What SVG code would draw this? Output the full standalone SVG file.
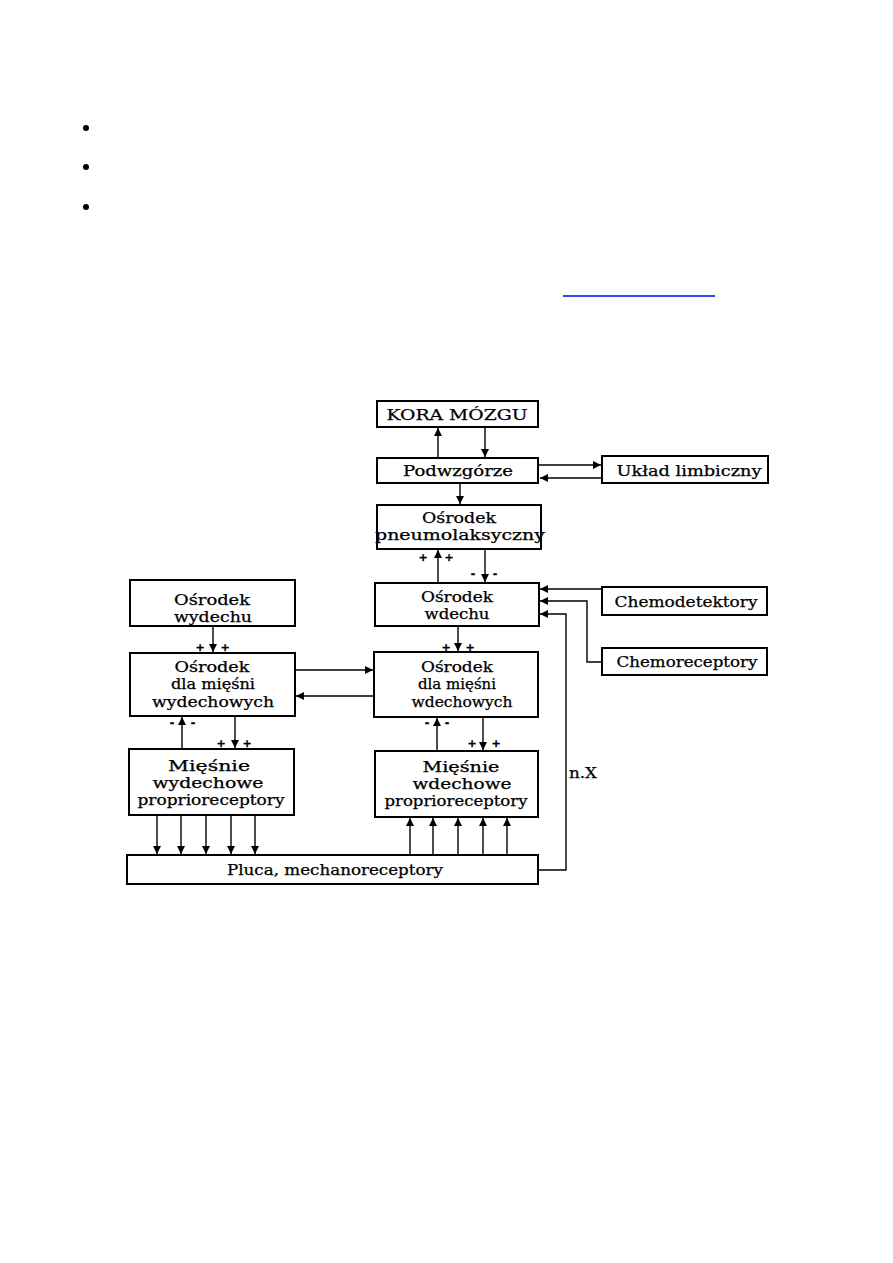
<svg xmlns="http://www.w3.org/2000/svg" width="893" height="1263" viewBox="0 0 893 1263">
<style>
.box{fill:#fff;stroke:#000;stroke-width:2}
.t{font-family:"DejaVu Serif","Liberation Serif",serif;font-size:14px;text-anchor:middle;fill:#000;stroke:#000;stroke-width:0.25}
.s{font-family:"DejaVu Sans","Liberation Sans",sans-serif;font-size:11px;font-weight:bold;text-anchor:middle;fill:#000;stroke:#000;stroke-width:0.3}
.c{fill:none;stroke:#000;stroke-width:1.4}
</style>
<defs>
<marker id="ah" markerUnits="userSpaceOnUse" markerWidth="9" markerHeight="8" refX="8" refY="4" orient="auto">
<path d="M0,0 L8,4 L0,8 Z" fill="#000"/>
</marker>
</defs>
<rect width="893" height="1263" fill="#fff"/>
<g id="bullets">
<circle cx="86" cy="128" r="3" fill="#000"/>
<circle cx="86" cy="167" r="3" fill="#000"/>
<circle cx="86" cy="207" r="3" fill="#000"/>
<line x1="563" y1="296" x2="715" y2="296" stroke="#0000ff" stroke-width="1.5"/>
</g>
<g id="connectors">
<line class="c" x1="438" y1="458" x2="438" y2="428" marker-end="url(#ah)"/>
<line class="c" x1="485" y1="427" x2="485" y2="457" marker-end="url(#ah)"/>
<line class="c" x1="539" y1="465" x2="601" y2="465" marker-end="url(#ah)"/>
<line class="c" x1="602" y1="478" x2="540" y2="478" marker-end="url(#ah)"/>
<line class="c" x1="460" y1="483" x2="460" y2="504" marker-end="url(#ah)"/>
<line class="c" x1="438" y1="583" x2="438" y2="550" marker-end="url(#ah)"/>
<line class="c" x1="485" y1="549" x2="485" y2="582" marker-end="url(#ah)"/>
<line class="c" x1="602" y1="589" x2="540" y2="589" marker-end="url(#ah)"/>
<polyline class="c" points="602,662 587,662 587,601 540,601" marker-end="url(#ah)"/>
<polyline class="c" points="538,870 566,870 566,614 540,614" marker-end="url(#ah)"/>
<line class="c" x1="458" y1="626" x2="458" y2="651" marker-end="url(#ah)"/>
<line class="c" x1="213" y1="626" x2="213" y2="652" marker-end="url(#ah)"/>
<line class="c" x1="295" y1="670" x2="373" y2="670" marker-end="url(#ah)"/>
<line class="c" x1="374" y1="696" x2="296" y2="696" marker-end="url(#ah)"/>
<line class="c" x1="182" y1="749" x2="182" y2="717" marker-end="url(#ah)"/>
<line class="c" x1="235" y1="716" x2="235" y2="748" marker-end="url(#ah)"/>
<line class="c" x1="437" y1="751" x2="437" y2="718" marker-end="url(#ah)"/>
<line class="c" x1="483" y1="717" x2="483" y2="750" marker-end="url(#ah)"/>
<line class="c" x1="157" y1="815" x2="157" y2="854" marker-end="url(#ah)"/>
<line class="c" x1="181" y1="815" x2="181" y2="854" marker-end="url(#ah)"/>
<line class="c" x1="206" y1="815" x2="206" y2="854" marker-end="url(#ah)"/>
<line class="c" x1="231" y1="815" x2="231" y2="854" marker-end="url(#ah)"/>
<line class="c" x1="255" y1="815" x2="255" y2="854" marker-end="url(#ah)"/>
<line class="c" x1="410" y1="855" x2="410" y2="818" marker-end="url(#ah)"/>
<line class="c" x1="433" y1="855" x2="433" y2="818" marker-end="url(#ah)"/>
<line class="c" x1="458" y1="855" x2="458" y2="818" marker-end="url(#ah)"/>
<line class="c" x1="483" y1="855" x2="483" y2="818" marker-end="url(#ah)"/>
<line class="c" x1="507" y1="855" x2="507" y2="818" marker-end="url(#ah)"/>
<text class="t" x="583" y="778" textLength="28" lengthAdjust="spacingAndGlyphs">n.X</text>
<text class="s" x="423" y="561">+</text><text class="s" x="449" y="561">+</text>
<text class="s" x="473" y="577">-</text><text class="s" x="495" y="577">-</text>
<text class="s" x="446" y="651">+</text><text class="s" x="470" y="651">+</text>
<text class="s" x="200" y="651">+</text><text class="s" x="225" y="651">+</text>
<text class="s" x="172" y="726">-</text><text class="s" x="193" y="726">-</text>
<text class="s" x="221" y="747">+</text><text class="s" x="247" y="747">+</text>
<text class="s" x="427" y="726">-</text><text class="s" x="447" y="726">-</text>
<text class="s" x="472" y="747">+</text><text class="s" x="496" y="747">+</text>
</g>
<g id="kora"><rect class="box" x="377" y="401" width="161" height="26"/><text class="t" x="457" y="420" textLength="141" lengthAdjust="spacingAndGlyphs" style="font-size:15px">KORA MÓZGU</text></g>
<g id="podwzgorze"><rect class="box" x="377" y="458" width="161" height="25"/><text class="t" x="458" y="476" textLength="110" lengthAdjust="spacingAndGlyphs">Podwzgórze</text></g>
<g id="limbiczny"><rect class="box" x="602" y="456" width="166" height="27"/><text class="t" x="689" y="476" textLength="145" lengthAdjust="spacingAndGlyphs">Układ limbiczny</text></g>
<g id="pneumo"><rect class="box" x="377" y="505" width="164" height="44"/><text class="t" x="459" y="523" textLength="74" lengthAdjust="spacingAndGlyphs">Ośrodek</text><text class="t" x="460" y="540" textLength="170" lengthAdjust="spacingAndGlyphs">pneumolaksyczny</text></g>
<g id="wdechu"><rect class="box" x="375" y="583" width="164" height="43"/><text class="t" x="457" y="602" textLength="72" lengthAdjust="spacingAndGlyphs">Ośrodek</text><text class="t" x="457" y="619" textLength="65" lengthAdjust="spacingAndGlyphs">wdechu</text></g>
<g id="chemodetektory"><rect class="box" x="602" y="587" width="165" height="28"/><text class="t" x="686" y="607" textLength="143" lengthAdjust="spacingAndGlyphs">Chemodetektory</text></g>
<g id="chemoreceptory"><rect class="box" x="602" y="648" width="165" height="27"/><text class="t" x="687" y="667" textLength="141" lengthAdjust="spacingAndGlyphs">Chemoreceptory</text></g>
<g id="wydechu"><rect class="box" x="130" y="580" width="165" height="46"/><text class="t" x="212" y="605" textLength="76" lengthAdjust="spacingAndGlyphs">Ośrodek</text><text class="t" x="213" y="622" textLength="78" lengthAdjust="spacingAndGlyphs">wydechu</text></g>
<g id="osr-wydech"><rect class="box" x="130" y="653" width="165" height="63"/><text class="t" x="212" y="672" textLength="75" lengthAdjust="spacingAndGlyphs">Ośrodek</text><text class="t" x="213" y="689" textLength="84" lengthAdjust="spacingAndGlyphs">dla mięśni</text><text class="t" x="213" y="707" textLength="122" lengthAdjust="spacingAndGlyphs">wydechowych</text></g>
<g id="osr-wdech"><rect class="box" x="374" y="652" width="164" height="65"/><text class="t" x="457" y="672" textLength="72" lengthAdjust="spacingAndGlyphs">Ośrodek</text><text class="t" x="457" y="689" textLength="78" lengthAdjust="spacingAndGlyphs">dla mięśni</text><text class="t" x="462" y="707" textLength="101" lengthAdjust="spacingAndGlyphs">wdechowych</text></g>
<g id="miesnie-wydech"><rect class="box" x="129" y="749" width="165" height="66"/><text class="t" x="209" y="771" textLength="82" lengthAdjust="spacingAndGlyphs">Mięśnie</text><text class="t" x="208" y="788" textLength="111" lengthAdjust="spacingAndGlyphs">wydechowe</text><text class="t" x="211" y="805" textLength="147" lengthAdjust="spacingAndGlyphs">proprioreceptory</text></g>
<g id="miesnie-wdech"><rect class="box" x="375" y="751" width="163" height="66"/><text class="t" x="461" y="772" textLength="77" lengthAdjust="spacingAndGlyphs">Mięśnie</text><text class="t" x="462" y="789" textLength="99" lengthAdjust="spacingAndGlyphs">wdechowe</text><text class="t" x="456" y="806" textLength="143" lengthAdjust="spacingAndGlyphs">proprioreceptory</text></g>
<g id="pluca"><rect class="box" x="127" y="855" width="411" height="29"/><text class="t" x="335" y="875" textLength="216" lengthAdjust="spacingAndGlyphs">Pluca, mechanoreceptory</text></g>
</svg>
